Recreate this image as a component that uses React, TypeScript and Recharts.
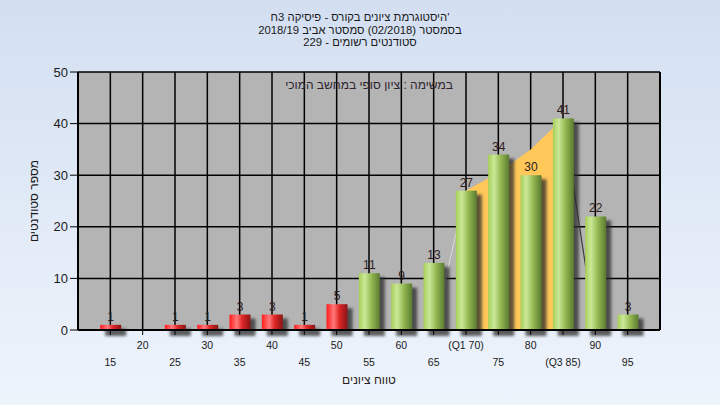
import { ComposedChart, Bar, Area, XAxis, YAxis, CartesianGrid, LabelList } from "recharts"

// score bins (x axis) and number of students in each bin
const scores = [15, 20, 25, 30, 35, 40, 45, 50, 55, 60, 65, 70, 75, 80, 85, 90, 95]
const counts = [1, 0, 1, 1, 3, 3, 1, 5, 11, 9, 13, 27, 34, 30, 41, 22, 3]
const tickLabels = ["15", "20", "25", "30", "35", "40", "45", "50", "55", "60", "65", "(Q1 70)", "75", "80", "(Q3 85)", "90", "95"]

// Q1..Q3 band (yellow) and its two side edges
const iqrBand = [null, null, null, null, null, null, null, null, null, null, null, 27, 30.5, 35, 41, null, null]
const riseEdge = [null, null, null, null, null, null, null, null, null, null, 0, 27, null, null, null, null, null]
const fallEdge = [null, null, null, null, null, null, null, null, null, null, null, null, null, null, 41, 0, null]

const yTicks = [0, 10, 20, 30, 40, 50]
const passMark = 55

const titleLines = [
    "היסטוגרמת ציונים בקורס - פיסיקה 3ח'",
    "בסמסטר (02/2018)  סמסטר אביב 2018/19",
    "סטודנטים רשומים - 229",
]
const noteText = "במשימה : ציון סופי במחשב המוכי"
const xTitle = "טווח ציונים"
const yTitle = "מספר סטודנטים"

const rows = scores.map((s, i) => ({
    score: s,
    count: counts[i],
    iqr: iqrBand[i],
    rise: riseEdge[i],
    fall: fallEdge[i],
}))

const FONT = '"Liberation Sans", Arial, sans-serif'

const CylBar = (props: any) => {
    const { x, y, width, height, payload } = props
    if (!height || height <= 0) return null
    const fill = payload.score < passMark ? "url(#cylRed)" : "url(#cylGreen)"
    return (
        <g>
            <rect x={x + 5} y={y + 4} width={width} height={height + 2} fill="#2b2b2b" opacity={0.75} filter="url(#shadowBlur)" />
            <rect x={x} y={y} width={width} height={height} fill={fill} />
        </g>
    )
}

const XTick = (props: any) => {
    const { x, y, payload } = props
    const i = scores.indexOf(payload.value)
    const lower = payload.value % 10 !== 0
    return (
        <text x={x} y={y + (lower ? 25 : 8)} textAnchor="middle" dominantBaseline="central" fontSize={10.5} fill="#1a1a1a" fontFamily={FONT}>
            {tickLabels[i]}
        </text>
    )
}

export default function App() {
    return (
        <div style={{ position: "absolute", left: 0, top: 0, width: 720, height: 405, background: "linear-gradient(180deg, #d3dff1 0%, #eef4fc 100%)", fontFamily: FONT }}>
            <ComposedChart width={720} height={405} data={rows} margin={{ top: 72, right: 20, bottom: 15, left: 38 }}>
                <defs>
                    <linearGradient id="cylRed" x1="0" y1="0" x2="1" y2="0">
                        <stop offset="0%" stopColor="#ff1c1c" />
                        <stop offset="35%" stopColor="#ff7a7a" />
                        <stop offset="60%" stopColor="#e02828" />
                        <stop offset="100%" stopColor="#8a1414" />
                    </linearGradient>
                    <linearGradient id="cylGreen" x1="0" y1="0" x2="1" y2="0">
                        <stop offset="0%" stopColor="#a6cf58" />
                        <stop offset="28%" stopColor="#cbe898" />
                        <stop offset="60%" stopColor="#94b951" />
                        <stop offset="100%" stopColor="#5a7a30" />
                    </linearGradient>
                    <filter id="shadowBlur" x="-50%" y="-50%" width="200%" height="200%">
                        <feGaussianBlur stdDeviation="1.6" />
                    </filter>
                </defs>
                <CartesianGrid yAxisId="left" stroke="#000" strokeWidth={1.5} fill="#b4b4b4" fillOpacity={1} />
                <XAxis
                    dataKey="score"
                    type="number"
                    domain={[10, 100]}
                    ticks={scores}
                    interval={0}
                    tick={<XTick />}
                    tickSize={5}
                    tickLine={{ stroke: "#000" }}
                    axisLine={{ stroke: "#000", strokeWidth: 2 }}
                    height={60}
                />
                <YAxis
                    yAxisId="left"
                    domain={[0, 50]}
                    ticks={yTicks}
                    width={40}
                    tickSize={8}
                    tickMargin={2}
                    tick={{ fill: "#1a1a1a", fontSize: 13, fontFamily: FONT }}
                    tickLine={{ stroke: "#000" }}
                    axisLine={{ stroke: "#000", strokeWidth: 2 }}
                />
                <YAxis
                    yAxisId="right"
                    orientation="right"
                    domain={[0, 50]}
                    ticks={yTicks}
                    width={40}
                    tickSize={8}
                    tickMargin={3}
                    tick={{ fill: "#1a1a1a", fontSize: 13, fontFamily: FONT }}
                    tickLine={{ stroke: "#000" }}
                    axisLine={{ stroke: "#000", strokeWidth: 2 }}
                />
                <Area yAxisId="left" type="linear" dataKey="iqr" fill="#ffc859" fillOpacity={1} stroke="none" isAnimationActive={false} />
                <Area yAxisId="left" type="linear" dataKey="rise" fill="none" stroke="#d9d9d9" strokeWidth={1} dot={false} activeDot={false} isAnimationActive={false} />
                <Area yAxisId="left" type="linear" dataKey="fall" fill="none" stroke="#3a3a3a" strokeWidth={1.2} dot={false} activeDot={false} isAnimationActive={false} />
                <Bar yAxisId="left" dataKey="count" barSize={21} shape={CylBar} isAnimationActive={false}>
                    <LabelList
                        dataKey="count"
                        position="top"
                        offset={4}
                        fontSize={12}
                        fill="#2a1c1c"
                        fontFamily={FONT}
                        formatter={(v: any) => (v === 0 ? "" : v)}
                    />
                </Bar>
            </ComposedChart>
            <svg width={720} height={405} style={{ position: "absolute", left: 0, top: 0, pointerEvents: "none" }} fontFamily={FONT}>
                {titleLines.map((t, i) => (
                    <text key={i} x={360} y={17 + i * 12.7} textAnchor="middle" dominantBaseline="central" fontSize={11.3} fill="#1a1a1a">
                        {t}
                    </text>
                ))}
                <text x={369} y={85} textAnchor="middle" dominantBaseline="central" fontSize={12} fill="#2e2430">
                    {noteText}
                </text>
                <text x={369} y={380} textAnchor="middle" dominantBaseline="central" fontSize={12} fill="#2a1c1c">
                    {xTitle}
                </text>
                <text x={34} y={201} textAnchor="middle" dominantBaseline="central" fontSize={12} fill="#1a1a1a" transform="rotate(-90 34 201)">
                    {yTitle}
                </text>
            </svg>
        </div>
    )
}
